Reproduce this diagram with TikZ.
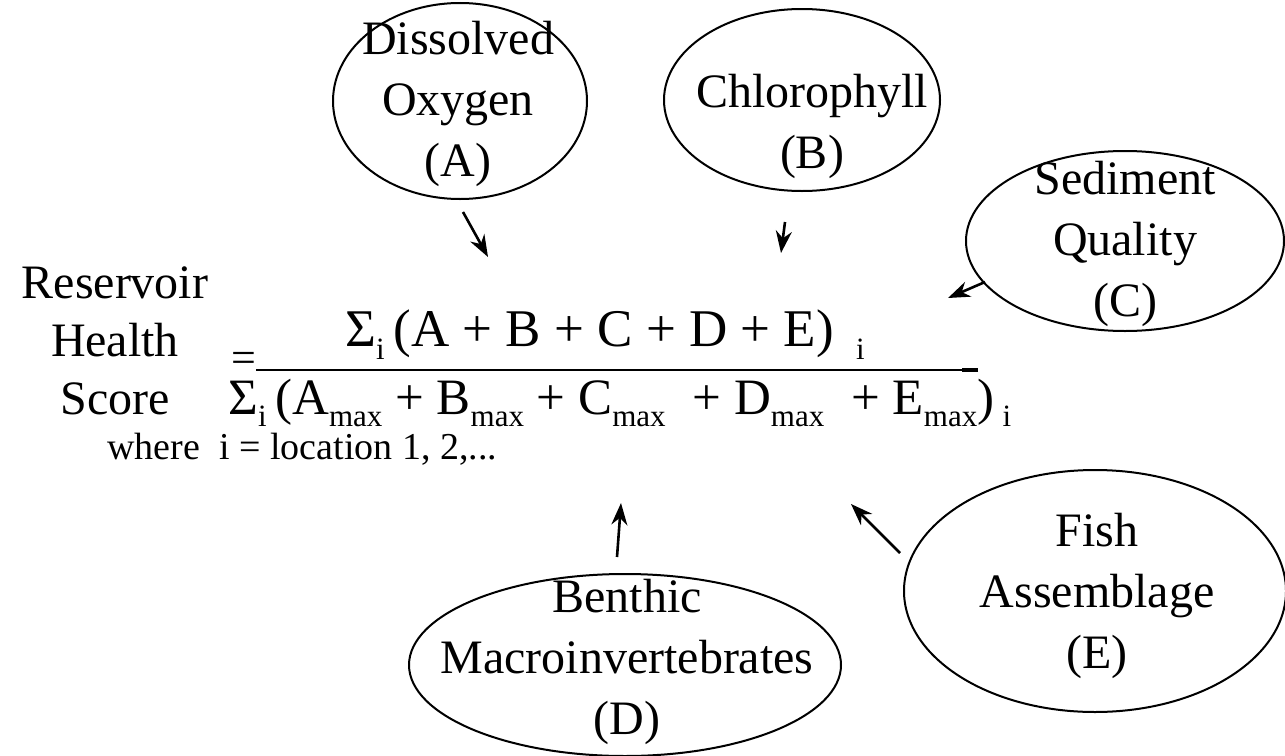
\documentclass[tikz,border=0pt]{standalone}
\usepackage{fontspec}
\setmainfont{Liberation Serif}
\usetikzlibrary{shapes.geometric,arrows.meta}
\newcommand{\lowr}[1]{\raisebox{-0.55ex}{\fontsize{15.5}{15.5}\selectfont #1}}
\begin{document}
\begin{tikzpicture}[x=0.5pt,y=-0.5pt,
  oval/.style={draw,line width=1pt,ellipse,inner sep=0pt},
  otext/.style={inner sep=0pt,align=center,anchor=base,
    font=\fontsize{24}{30.5}\selectfont},
  arr/.style={line width=1.3pt,-{Stealth[length=11pt,width=8pt]}},
  frm/.style={inner sep=0pt,font=\fontsize{26.5}{30}\selectfont}]
\useasboundingbox (0,0) rectangle (1285,755);
% ellipses
\node[oval,minimum width=127pt,minimum height=98pt] (A) at (460,101) {};
\node[oval,minimum width=138pt,minimum height=91pt] (B) at (802,100) {};
\node[oval,minimum width=159pt,minimum height=90pt] (C) at (1125,241) {};
\node[oval,minimum width=216pt,minimum height=91pt] (D) at (625,665) {};
\node[oval,minimum width=191pt,minimum height=121pt] (E) at (1095,591) {};
\node[otext] (At) at (458,176) {Dissolved\\Oxygen\\(A)};
\node[otext] (Bt) at (812,168) {Chlorophyll\\(B)};
\node[otext] (Ct) at (1125,316) {Sediment\\Quality\\(C)};
\node[otext] (Dt) at (627,734) {Benthic\\Macroinvertebrates\\(D)};
\node[otext] (Et) at (1097,668) {Fish\\Assemblage\\(E)};
% left label
\node[otext,font=\fontsize{24}{29}\selectfont] (R) at (115,414) {Reservoir\\Health\\Score};
% equals and fraction
\node[inner sep=0pt,anchor=base,font=\fontsize{22}{22}\selectfont,text height=7pt,text depth=0pt] (eq) at (244,372) {=};
\coordinate (fl) at (256,370);
\coordinate (fr) at (978,370);
\draw[line width=1pt] (fl) -- (fr);
\draw[line width=1.8pt] (fr) -- ++(-16,0);
\node[frm,anchor=base] (num) at (605,346) {Σ\lowr{i}\,(A + B + C + D + E)\, \lowr{i}};
\node[frm,anchor=base west,font=\fontsize{25.5}{30}\selectfont] (den) at (228,414) {Σ\lowr{i}\,(A\lowr{max} + B\lowr{max} + C\lowr{max}\; + D\lowr{max}\; + E\lowr{max})\,\lowr{i}};
\node[inner sep=0pt,anchor=base west,font=\fontsize{19}{19}\selectfont] (wh) at (107,459) {where~ i = location 1, 2,...};
% arrows
\coordinate (sA) at (463,212); \coordinate (tA) at (488,257);
\coordinate (sB) at (785,222); \coordinate (tB) at (781,253);
\coordinate (sC) at (985,282); \coordinate (tC) at (948,298);
\coordinate (sD) at (617,557); \coordinate (tD) at (621,503);
\coordinate (sE) at (900,553); \coordinate (tE) at (851,504);
\draw[arr] (sA) -- (tA);
\draw[arr] (sB) -- (tB);
\draw[arr] (sC) -- (tC);
\draw[arr] (sD) -- (tD);
\draw[arr] (sE) -- (tE);
\end{tikzpicture}
\end{document}
